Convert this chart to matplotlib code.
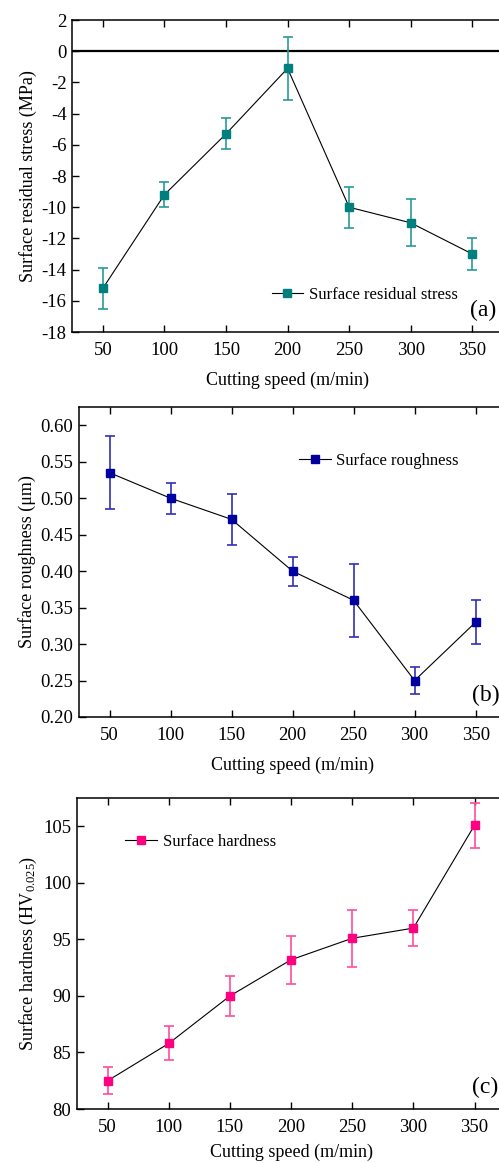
import numpy as np
import matplotlib
matplotlib.use("Agg")
import matplotlib.pyplot as plt

# ============================================================
# DADOS
# ============================================================
speed = [50, 100, 150, 200, 250, 300, 350]
speed_ticks = [50, 100, 150, 200, 250, 300, 350]

stress = [-15.2, -9.2, -5.3, -1.1, -10.0, -11.0, -13.0]
stress_err = [1.3, 0.8, 1.0, 2.0, 1.3, 1.5, 1.0]
stress_ticks = [2, 0, -2, -4, -6, -8, -10, -12, -14, -16, -18]

rough = [0.535, 0.500, 0.471, 0.400, 0.360, 0.250, 0.330]
rough_err = [0.050, 0.021, 0.035, 0.020, 0.050, 0.018, 0.030]
rough_ticks = [0.20, 0.25, 0.30, 0.35, 0.40, 0.45, 0.50, 0.55, 0.60]

hard = [82.5, 85.8, 90.0, 93.2, 95.1, 96.0, 105.1]
hard_err = [1.2, 1.5, 1.8, 2.1, 2.5, 1.6, 2.0]
hard_ticks = [80, 85, 90, 95, 100, 105]

# ============================================================
# ESTILO
# ============================================================
plt.rcParams["font.family"] = ["Liberation Serif", "DejaVu Serif"]
plt.rcParams["mathtext.fontset"] = "custom"
plt.rcParams["mathtext.rm"] = "Liberation Serif"
plt.rcParams["mathtext.it"] = "Liberation Serif:italic"
plt.rcParams["axes.unicode_minus"] = False
plt.rcParams["font.size"] = 12.5

fig = plt.figure(figsize=(4.99, 11.63), dpi=100)


def panel(rect, y, err, color, errcolor, label, ylabel, ylim, yticks, fmt,
          tag, legend_anchor, xpad=9):
    ax = fig.add_axes(rect)
    ax.errorbar(speed, y, yerr=err, fmt="none", ecolor=errcolor,
                elinewidth=1.2, capsize=3.5, capthick=1.2, zorder=2)
    ax.plot(speed, y, color="black", lw=0.8, marker="s", ms=5.5,
            mfc=color, mec=color, label=label, zorder=3)
    ax.set_xlim(25, 375)
    ax.set_ylim(*ylim)
    ax.set_xticks(speed_ticks)
    ax.set_yticks(yticks)
    ax.set_yticklabels([fmt.format(v) for v in yticks])
    ax.tick_params(direction="in", length=5, width=1, top=True, right=False,
                   labelsize=13.5, pad=4)
    ax.tick_params(axis="x", pad=7)
    for s in ax.spines.values():
        s.set_linewidth(1.1)
    ax.set_xlabel("Cutting speed (m/min)", fontsize=13, labelpad=xpad)
    ax.set_ylabel(ylabel, fontsize=13, labelpad=3)
    ax.legend(loc="center left", bbox_to_anchor=legend_anchor,
              frameon=False, fontsize=12, handlelength=1.9,
              handletextpad=0.35, borderaxespad=0, borderpad=0)
    ax.text(0.985, 0.035, tag, transform=ax.transAxes, ha="right",
            va="bottom", fontsize=17)
    return ax


ax1 = panel([0.1443, 0.7145, 0.864, 0.2683], stress, stress_err,
            "#007f7f", "#2a9a9a", "Surface residual stress",
            "Surface residual stress (MPa)", (-18, 2), stress_ticks, "{:d}",
            "(a)", (0.463, 0.119))
ax1.axhline(0, color="black", lw=1.6, zorder=1)

ax2 = panel([0.1583, 0.3835, 0.856, 0.2665], rough, rough_err,
            "#0000a0", "#3030b8", "Surface roughness",
            "Surface roughness (μm)", (0.20, 0.625), rough_ticks, "{:.2f}",
            "(b)", (0.515, 0.826))

ax3 = panel([0.1543, 0.0464, 0.858, 0.2674], hard, hard_err,
            "#ff0080", "#ff4d9a", "Surface hardness",
            r"Surface hardness (HV$_{\mathrm{0.025}}$)", (80, 107.5), hard_ticks,
            "{:d}", "(c)", (0.113, 0.859), xpad=6)

fig.savefig("out.png", dpi=100)
